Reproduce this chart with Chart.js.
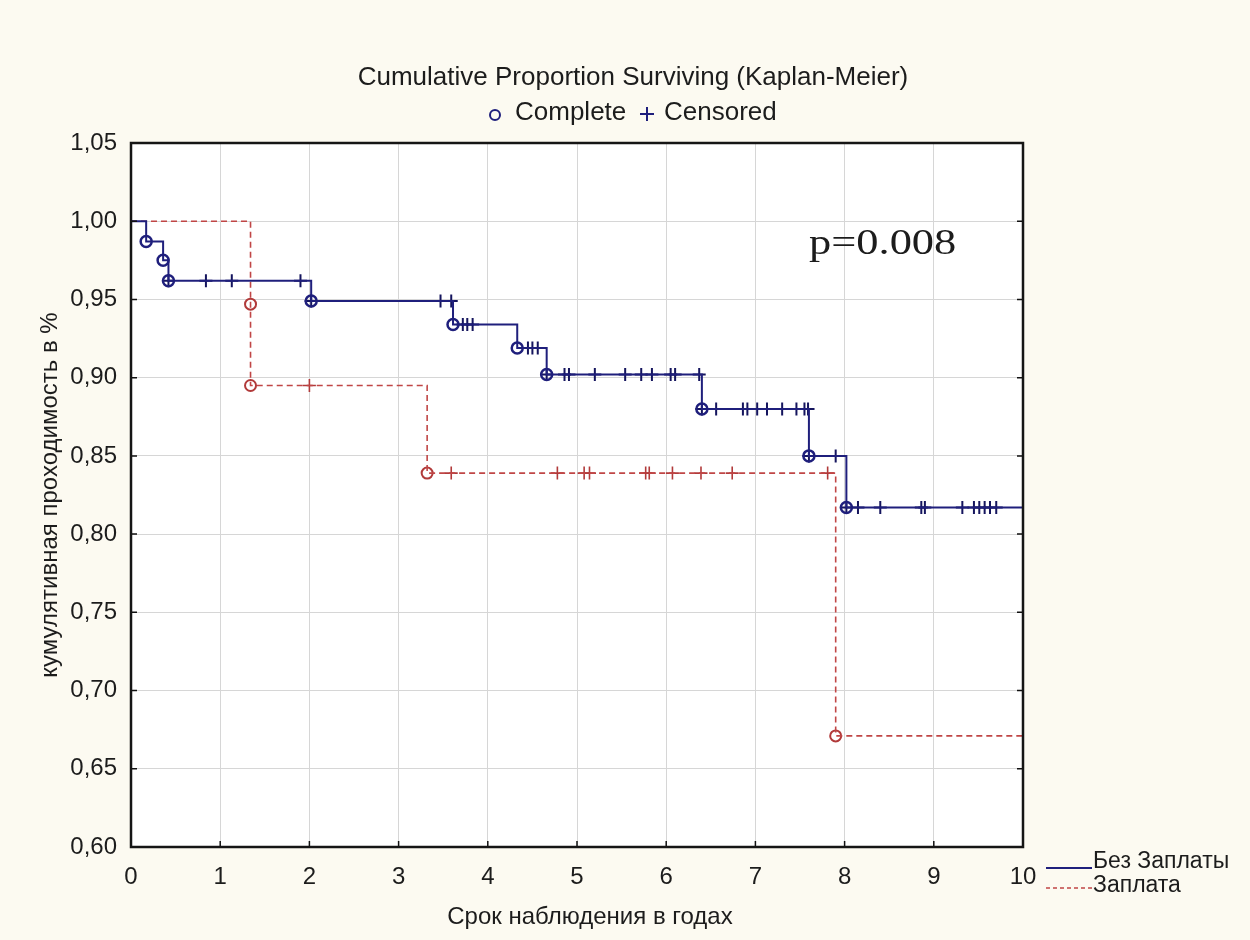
<!DOCTYPE html>
<html>
<head>
<meta charset="utf-8">
<script src="https://cdn.jsdelivr.net/npm/chart.js@4.4.1/dist/chart.umd.min.js"></script>
<style>
  html, body { margin: 0; padding: 0; background: #fcfaf1; }
  #wrap { width: 1250px; height: 940px; }
</style>
</head>
<body>
<div id="wrap"><canvas id="km" width="1250" height="940"></canvas></div>
<script>
// Group "Без Заплаты": event (complete) times and survival after each event
const noPatchEventTimes = [0.17, 0.36, 0.42, 2.02, 3.61, 4.33, 4.66, 6.40, 7.60, 8.02];
const noPatchEventSurv  = [0.987, 0.975, 0.962, 0.949, 0.934, 0.919, 0.902, 0.880, 0.850, 0.817];
// Group "Без Заплаты": censored observation times
const noPatchCensorTimes = [0.42, 0.84, 1.13, 1.90, 2.02, 3.47, 3.59, 3.72, 3.77, 3.83, 4.45, 4.50, 4.56,
  4.66, 4.86, 4.91, 5.20, 5.54, 5.72, 5.84, 6.05, 6.10, 6.37, 6.40, 6.56, 6.86, 6.91, 7.02, 7.13,
  7.30, 7.46, 7.55, 7.59, 7.60, 7.90, 8.02, 8.15, 8.40, 8.86, 8.90, 9.32, 9.45, 9.51, 9.57, 9.63, 9.70];

// Group "Заплата"
const patchEventTimes = [1.34, 1.34, 3.32, 7.90];
const patchEventSurv  = [0.947, 0.895, 0.839, 0.671];
const patchCensorTimes = [2.00, 3.59, 4.78, 5.08, 5.14, 5.77, 5.81, 6.07, 6.39, 6.74, 7.81];

// Axis ticks
const xTicks = [0, 1, 2, 3, 4, 5, 6, 7, 8, 9, 10];
const yTicks = [0.60, 0.65, 0.70, 0.75, 0.80, 0.85, 0.90, 0.95, 1.00, 1.05];
const followUpEnd = 10;

const seriesNames = ['Без Заплаты', 'Заплата'];

const BLUE = '#1f1f7c';
const BLUE_DARK = '#15155e';
const RED = '#c04646';
const RED_MARK = '#b13a3a';

// Kaplan–Meier step curve: starts at 1.0, drops at every event
function stepPoints(times, surv, end) {
  const pts = [{x: 0, y: 1}];
  times.forEach((t, i) => pts.push({x: t, y: surv[i]}));
  pts.push({x: end, y: surv[surv.length - 1]});
  return pts;
}
// survival level in force at time t
function survAt(times, surv, t) {
  let s = 1;
  times.forEach((et, i) => { if (et <= t) s = surv[i]; });
  return s;
}
function eventPoints(times, surv) {
  return times.map((t, i) => ({x: t, y: surv[i]}));
}
function censorPoints(cTimes, times, surv) {
  return cTimes.map(t => ({x: t, y: survAt(times, surv, t)}));
}

const FONT = "'Liberation Sans', Arial, sans-serif";

const decor = {
  id: 'decor',
  beforeDraw(chart) {
    const {ctx, chartArea: a} = chart;
    ctx.save();
    ctx.fillStyle = '#fcfaf1';
    ctx.fillRect(0, 0, chart.width, chart.height);
    ctx.fillStyle = '#ffffff';
    ctx.fillRect(a.left, a.top, a.right - a.left, a.bottom - a.top);
    ctx.restore();
  },
  afterDatasetsDraw(chart) {
    const {ctx, chartArea: a, scales} = chart;
    ctx.save();
    // inner tick marks
    ctx.strokeStyle = '#111';
    ctx.lineWidth = 1.5;
    yTicks.forEach(v => {
      const y = scales.y.getPixelForValue(v);
      ctx.beginPath();
      ctx.moveTo(a.left, y); ctx.lineTo(a.left + 6, y);
      ctx.moveTo(a.right, y); ctx.lineTo(a.right - 6, y);
      ctx.stroke();
    });
    xTicks.forEach(v => {
      const x = scales.x.getPixelForValue(v);
      ctx.beginPath();
      ctx.moveTo(x, a.bottom); ctx.lineTo(x, a.bottom - 6);
      ctx.stroke();
    });
    // frame
    ctx.strokeStyle = '#151515';
    ctx.lineWidth = 2.5;
    ctx.strokeRect(a.left, a.top, a.right - a.left, a.bottom - a.top);
    ctx.restore();
  },
  afterDraw(chart) {
    const {ctx} = chart;
    ctx.save();
    ctx.fillStyle = '#1c1c1c';
    ctx.textBaseline = 'middle';

    // title
    ctx.font = `26px ${FONT}`;
    ctx.textAlign = 'center';
    ctx.fillText('Cumulative Proportion Surviving (Kaplan-Meier)', 633, 78);

    // marker key
    ctx.textAlign = 'left';
    ctx.font = `26px ${FONT}`;
    ctx.strokeStyle = BLUE;
    ctx.lineWidth = 2;
    ctx.beginPath(); ctx.arc(495, 115, 5, 0, Math.PI * 2); ctx.stroke();
    ctx.fillText('Complete', 515, 113);
    ctx.beginPath();
    ctx.moveTo(647, 107); ctx.lineTo(647, 121);
    ctx.moveTo(640, 114); ctx.lineTo(654, 114);
    ctx.stroke();
    ctx.fillText('Censored', 664, 113);

    // p-value
    ctx.save();
    ctx.font = `35px 'Liberation Serif', 'Times New Roman', serif`;
    ctx.translate(809, 245);
    ctx.scale(1.27, 1);
    ctx.fillText('p=0.008', 0, 0);
    ctx.restore();

    // axis titles
    ctx.font = `24px ${FONT}`;
    ctx.textAlign = 'center';
    ctx.fillText('Срок наблюдения в годах', 590, 917);
    ctx.save();
    ctx.translate(50, 495);
    ctx.rotate(-Math.PI / 2);
    ctx.fillText('кумулятивная проходимость в %', 0, 0);
    ctx.restore();

    // series key
    ctx.textAlign = 'left';
    ctx.font = `23px ${FONT}`;
    ctx.strokeStyle = BLUE;
    ctx.lineWidth = 2;
    ctx.beginPath(); ctx.moveTo(1046, 868); ctx.lineTo(1092, 868); ctx.stroke();
    ctx.fillText(seriesNames[0], 1093, 862);
    ctx.strokeStyle = RED;
    ctx.lineWidth = 1.5;
    ctx.setLineDash([4, 3]);
    ctx.beginPath(); ctx.moveTo(1046, 888); ctx.lineTo(1092, 888); ctx.stroke();
    ctx.setLineDash([]);
    ctx.fillText(seriesNames[1], 1093, 886);
    ctx.restore();
  }
};

new Chart(document.getElementById('km'), {
  type: 'scatter',
  data: {
    datasets: [
      {
        label: seriesNames[0],
        type: 'line',
        data: stepPoints(noPatchEventTimes, noPatchEventSurv, followUpEnd),
        stepped: 'before',
        borderColor: BLUE,
        borderWidth: 2,
        pointRadius: 0,
        fill: false
      },
      {
        label: seriesNames[1],
        type: 'line',
        data: stepPoints(patchEventTimes, patchEventSurv, followUpEnd),
        stepped: 'before',
        borderColor: RED,
        borderWidth: 1.6,
        borderDash: [6, 4],
        pointRadius: 0,
        fill: false
      },
      {
        label: 'complete-1',
        data: eventPoints(noPatchEventTimes, noPatchEventSurv),
        pointStyle: 'circle',
        pointRadius: 5.5,
        borderColor: BLUE,
        borderWidth: 2.5,
        backgroundColor: 'rgba(0,0,0,0)'
      },
      {
        label: 'censored-1',
        data: censorPoints(noPatchCensorTimes, noPatchEventTimes, noPatchEventSurv),
        pointStyle: 'cross',
        pointRadius: 6.5,
        borderColor: BLUE_DARK,
        borderWidth: 2
      },
      {
        label: 'complete-2',
        data: eventPoints(patchEventTimes, patchEventSurv),
        pointStyle: 'circle',
        pointRadius: 5.5,
        borderColor: RED_MARK,
        borderWidth: 2,
        backgroundColor: 'rgba(0,0,0,0)'
      },
      {
        label: 'censored-2',
        data: censorPoints(patchCensorTimes, patchEventTimes, patchEventSurv),
        pointStyle: 'cross',
        pointRadius: 6.5,
        borderColor: RED_MARK,
        borderWidth: 1.6
      }
    ]
  },
  options: {
    responsive: false,
    animation: false,
    events: [],
    layout: { padding: { top: 143, right: 227, left: 0, bottom: 0 } },
    plugins: { legend: { display: false }, title: { display: false }, tooltip: { enabled: false } },
    scales: {
      x: {
        type: 'linear',
        min: 0, max: 10,
        afterFit(s) { s.height = 93; },
        afterBuildTicks(s) { s.ticks = xTicks.map(v => ({value: v})); },
        grid: { color: '#d6d6d6', lineWidth: 1, drawTicks: false },
        border: { display: false },
        ticks: {
          padding: 16,
          color: '#1c1c1c',
          font: { family: FONT, size: 24 },
          callback: v => String(v)
        }
      },
      y: {
        type: 'linear',
        min: 0.60, max: 1.05,
        afterFit(s) { s.width = 131; },
        afterBuildTicks(s) { s.ticks = yTicks.map(v => ({value: v})); },
        grid: { color: '#d6d6d6', lineWidth: 1, drawTicks: false },
        border: { display: false },
        ticks: {
          padding: 14,
          color: '#1c1c1c',
          font: { family: FONT, size: 24 },
          callback: v => Number(v).toFixed(2).replace('.', ',')
        }
      }
    }
  },
  plugins: [decor]
});
</script>
</body>
</html>
